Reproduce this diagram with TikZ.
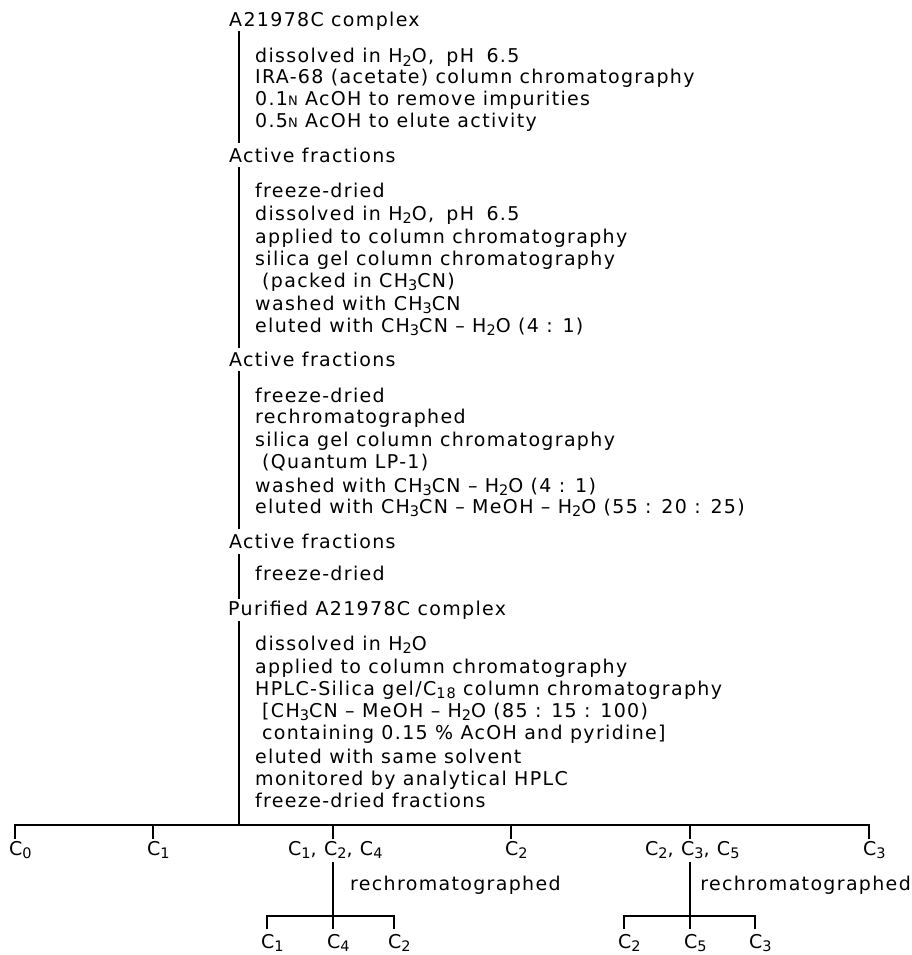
\documentclass[tikz,border=0pt]{standalone}
\usepackage{fontspec}
\setmainfont[LetterSpace=7]{DejaVu Sans}
\usetikzlibrary{calc}
\newcommand{\sbs}[1]{\raisebox{-0.36ex}{\fontsize{14.5}{15}\selectfont #1}}
\newcommand{\smN}{{\fontsize{13}{14}\selectfont N}}
\newcommand{\wsp}{\hspace{5pt}}
\begin{document}
\begin{tikzpicture}[x=1pt,y=-1pt,
  every node/.style={inner sep=0pt, anchor=base west, font=\fontsize{19}{22}\selectfont},
  conn/.style={line width=1.3pt, line cap=rect},
  barline/.style={line width=1.7pt}]
\useasboundingbox (0,0) rectangle (912,955);
% titles
\node (t1) at (229,27) {A21978C complex};
\node (t2) at (229,162) {Active fractions};
\node (t3) at (229,366) {Active fractions};
\node (t4) at (229,548) {Active fractions};
\node (t5) at (228,615) {Purified A21978C complex};
% block 1
\node (a1) at (255,63) {dissolved in H\sbs{2}O,\wsp{} pH\wsp{} 6.5};
\node (a2) at (255,84) {IRA-68 (acetate) column chromatography};
\node (a3) at (255,106) {0.1\smN\ AcOH to remove impurities};
\node (a4) at (255,128) {0.5\smN\ AcOH to elute activity};
% block 2
\node (b1) at (255,197) {freeze-dried};
\node (b2) at (255,220) {dissolved in H\sbs{2}O,\wsp{} pH\wsp{} 6.5};
\node (b3) at (255,243) {applied to column chromatography};
\node (b4) at (255,265) {silica gel column chromatography};
\node (b5) at (262,287) {(packed in CH\sbs{3}CN)};
\node (b6) at (255,310) {washed with CH\sbs{3}CN};
\node (b7) at (255,332) {eluted with CH\sbs{3}CN – H\sbs{2}O (4 : 1)};
% block 3
\node (c1) at (255,402) {freeze-dried};
\node (c2) at (255,423) {rechromatographed};
\node (c3) at (255,446) {silica gel column chromatography};
\node (c4) at (262,468) {(Quantum LP-1)};
\node (c5) at (255,492) {washed with CH\sbs{3}CN – H\sbs{2}O (4 : 1)};
\node (c6) at (255,513) {eluted with CH\sbs{3}CN – MeOH – H\sbs{2}O (55 : 20 : 25)};
% block 4
\node (d1) at (255,580) {freeze-dried};
% block 5
\node (e1) at (255,650) {dissolved in H\sbs{2}O};
\node (e2) at (255,673) {applied to column chromatography};
\node (e3) at (255,695) {HPLC-Silica gel/C\sbs{18} column chromatography};
\node (e4) at (262,717) {[CH\sbs{3}CN – MeOH – H\sbs{2}O (85 : 15 : 100)};
\node (e5) at (262,739) {containing 0.15 \% AcOH and pyridine]};
\node (e6) at (255,763) {eluted with same solvent};
\node (e7) at (255,785) {monitored by analytical HPLC};
\node (e8) at (255,807) {freeze-dried fractions};
% vertical connectors
\coordinate (lx) at (239,0);
\draw[conn] ($(t1.base -| lx)+(0,5)$) -- ($(t2.base -| lx)+(0,-20)$);
\draw[conn] ($(t2.base -| lx)+(0,6)$) -- ($(t3.base -| lx)+(0,-19)$);
\draw[conn] ($(t3.base -| lx)+(0,6)$) -- ($(t4.base -| lx)+(0,-20)$);
\draw[conn] ($(t4.base -| lx)+(0,7)$) -- ($(t5.base -| lx)+(0,-17)$);
% bottom tree
\coordinate (bl) at (15,825);
\coordinate (br) at (869,825);
\draw[conn] ($(t5.base -| lx)+(0,7)$) -- (bl -| lx);
\draw[barline] (bl) -- (br);
\node (k0) at (9,855) {C\sbs{0}};
\node (k1) at (147,855) {C\sbs{1}};
\node (k2) at (288,855) {C\sbs{1}, C\sbs{2}, C\sbs{4}};
\node (k3) at (505,855) {C\sbs{2}};
\node (k4) at (645,855) {C\sbs{2}, C\sbs{3}, C\sbs{5}};
\node (k5) at (863,855) {C\sbs{3}};
\foreach \x in {15,153,333,511,690,869}
  \draw[conn] (\x,825) -- (\x,838);
% sub trees
\node (r1) at (350,890) {rechromatographed};
\node[anchor=base east] (r2) at (911,890) {rechromatographed};
\coordinate (s1) at (333,863);
\coordinate (s2) at (690,863);
\draw[conn] (s1) -- (333,916);
\draw[conn] (s2) -- (690,916);
\draw[barline] (267,916) -- (394,916);
\draw[barline] (624,916) -- (755,916);
\foreach \x in {267,333,394,624,690,755}
  \draw[conn] (\x,916) -- (\x,928);
\node (m1) at (261,948) {C\sbs{1}};
\node (m2) at (327,948) {C\sbs{4}};
\node (m3) at (388,948) {C\sbs{2}};
\node (m4) at (618,948) {C\sbs{2}};
\node (m5) at (684,948) {C\sbs{5}};
\node (m6) at (749,948) {C\sbs{3}};
\end{tikzpicture}
\end{document}
